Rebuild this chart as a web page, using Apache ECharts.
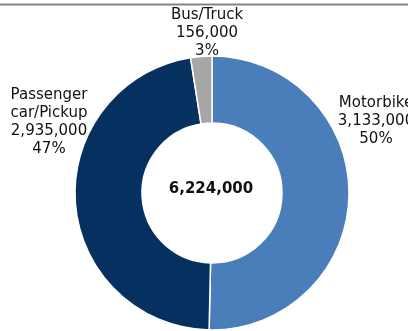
<!DOCTYPE html>
<html>
<head>
<meta charset="utf-8">
<script src="https://cdn.jsdelivr.net/npm/echarts@6/dist/echarts.min.js"></script>
<style>
  html, body { margin: 0; padding: 0; background: #fff; }
  #chart { width: 408px; height: 331px; }
</style>
</head>
<body>
<div id="chart"></div>
<script>
// Vehicle registrations by type
const categories = ['Motorbike', 'Passenger car/Pickup', 'Bus/Truck'];
const values = [3133000, 2935000, 156000];
const colors = ['#4a7ebb', '#06305f', '#a6a6a6'];

// Label anchor points (centre of each text block)
const labelAnchors = [[376, 121], [49, 122], [207, 33]];

const total = values.reduce((a, b) => a + b, 0);
const fmt = v => v.toLocaleString('en-US');

const chart = echarts.init(document.getElementById('chart'), null, { renderer: 'canvas' });
chart.setOption({
  animation: false,
  backgroundColor: '#ffffff',
  graphic: [{
    type: 'line',
    shape: { x1: 0, y1: 4.5, x2: 408, y2: 4.5 },
    style: { stroke: '#858585', lineWidth: 2 }
  }, {
    type: 'text',
    x: 211, y: 189,
    z: 10,
    style: {
      text: fmt(total),
      align: 'center', verticalAlign: 'middle',
      fontFamily: 'DejaVu Sans', fontWeight: 'bold', fontSize: 15, fill: '#111'
    }
  }],
  series: [{
    type: 'pie',
    center: [212, 193],
    radius: [70, 137],
    startAngle: 90,
    clockwise: true,
    percentPrecision: 0,
    avoidLabelOverlap: false,
    itemStyle: { borderColor: '#ffffff', borderWidth: 1.5 },
    labelLine: { show: false },
    label: {
      show: true,
      position: 'outside',
      overflow: 'none',
      fontFamily: 'DejaVu Sans',
      fontSize: 15,
      lineHeight: 18,
      color: '#111',
      align: 'center',
      formatter: p => p.name.replace(' ', '\n') + '\n' + fmt(p.value) + '\n' + p.percent + '%'
    },
    labelLayout: p => ({
      x: labelAnchors[p.dataIndex][0],
      y: labelAnchors[p.dataIndex][1],
      align: 'center',
      verticalAlign: 'middle',
      hideOverlap: false
    }),
    data: categories.map((c, i) => ({ name: c, value: values[i], itemStyle: { color: colors[i] } }))
  }]
});
</script>
</body>
</html>
